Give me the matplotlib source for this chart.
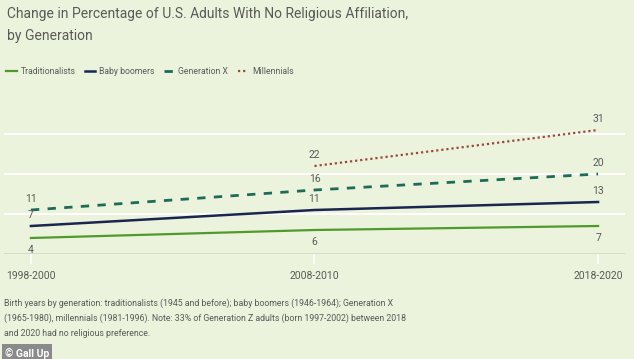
import matplotlib.pyplot as plt

plt.rcParams['font.family'] = ['Roboto', 'DejaVu Sans']

periods = ["1998-2000", "2008-2010", "2018-2020"]
traditionalists = [4, 6, 7]
baby_boomers = [7, 11, 13]
generation_x = [11, 16, 20]
millennials = [None, 22, 31]

bg = '#ebf3dc'
txt = '#5a5a5a'

fig = plt.figure(figsize=(6.34, 3.59), dpi=100, facecolor=bg)
ax = fig.add_axes([4 / 634, 105 / 359, 621 / 634, 128 / 359], facecolor=bg)

x = list(range(len(periods)))
ax.plot(x, traditionalists, color='#4f9a2a', lw=1.6, label='Traditionalists')
ax.plot(x, baby_boomers, color='#1b2650', lw=1.8, label='Baby boomers')
ax.plot(x, generation_x, color='#1e6b58', lw=2.0, ls=(0, (3, 3)), label='Generation X')
ax.plot(x[1:], millennials[1:], color='#9a4a3c', lw=1.6, ls=(0, (1, 1.3)), label='Millennials')

# value labels
for xi, v in zip(x, traditionalists):
    ax.annotate(str(v), (xi, v), xytext=(0, -5), textcoords='offset points',
                ha='center', va='top', fontsize=7.5, color=txt)
for series in (baby_boomers, generation_x, millennials):
    for xi, v in zip(x, series):
        if v is None:
            continue
        ax.annotate(str(v), (xi, v), xytext=(0, 4), textcoords='offset points',
                    ha='center', va='bottom', fontsize=7.5, color=txt)

ax.set_xlim(-0.095, 2.095)
ax.set_ylim(0, 32)
for g in (10, 20, 30):
    ax.axhline(g, color='white', lw=1.5, zorder=0)
ax.axhline(0, color='#cfd6c6', lw=1.8, zorder=1)
ax.set_yticks([])
ax.set_xticks(x)
ax.set_xticklabels(periods, fontsize=7.5, color=txt)
ax.tick_params(axis='x', length=7, width=1.2, color='white', pad=5)
for s in ax.spines.values():
    s.set_visible(False)

fig.text(7 / 634, 1 - 7 / 359, "Change in Percentage of U.S. Adults With No Religious Affiliation,\nby Generation",
         fontsize=10, color=txt, va='top', ha='left', linespacing=1.7)

fig.legend(loc='center left', bbox_to_anchor=(-0.002, 1 - 72 / 359), ncol=4, frameon=False,
           fontsize=6.2, labelcolor=txt, handlelength=1.2, handletextpad=0.45, columnspacing=1.1)

fig.text(4 / 634, 1 - 318 / 359,
         "Birth years by generation: traditionalists (1945 and before); baby boomers (1946-1964); Generation X\n"
         "(1965-1980), millennials (1981-1996). Note: 33% of Generation Z adults (born 1997-2002) between 2018\n"
         "and 2020 had no religious preference.",
         fontsize=6.3, color=txt, va='center', ha='left', linespacing=1.8)

fig.text(5 / 634, 6 / 359, "\u00a9 Gall Up", fontsize=7.5, color='white', fontweight='bold',
         va='center', ha='left',
         bbox=dict(boxstyle='square,pad=0.3', fc='#8a8a8a', ec='none'))

fig.savefig('out.png', dpi=100, facecolor=bg)
